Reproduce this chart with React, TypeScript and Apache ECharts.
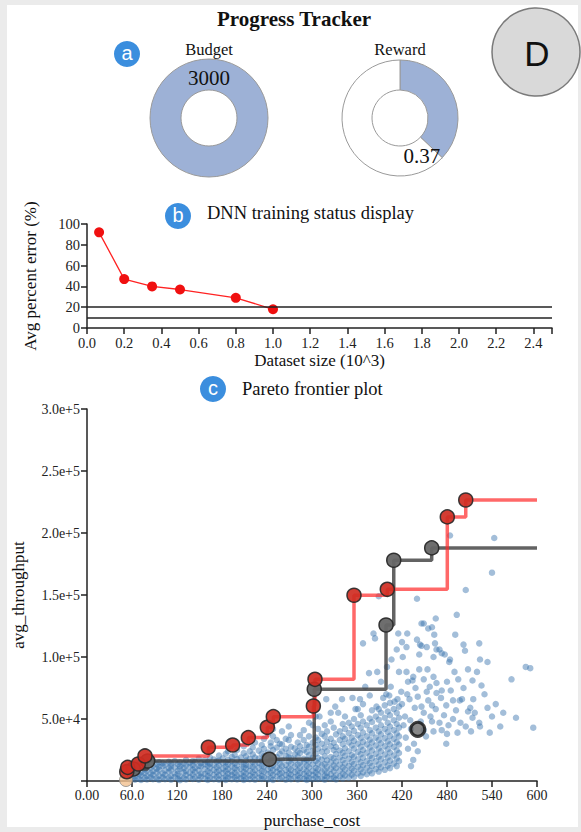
import React, { useEffect, useRef } from 'react';
import * as echarts from 'echarts';

const SERIF = "'Liberation Serif', 'Times New Roman', serif";
const SANS = "'Liberation Sans', Arial, sans-serif";
const RING_BLUE = '#9db1d6';
const BADGE_BLUE = '#3b8ede';

// (a) progress gauges
const budgetValue = 3000;
const rewardValue = 0.37;

// (b) DNN training status
const datasetSizes = [0.065, 0.2, 0.35, 0.5, 0.8, 1.0];
const percentErrors = [92, 47, 40, 37, 29, 18];
const errorThresholds = [20, 10];

// (c) Pareto frontiers: [purchase_cost, avg_throughput (thousands)]
const redFrontier: [number, number][] = [
  [53, 7.5], [54.2, 11], [68.4, 13.7], [77.3, 20.2], [161.8, 27.2], [194.2, 29],
  [215.1, 35], [240.4, 43.3], [248.4, 51.9], [301.8, 60.5], [304, 82], [356, 149.8],
  [400.4, 154.6], [480.4, 213], [505, 226.6],
];
const grayFrontier: [number, number][] = [
  [61.8, 9.7], [80.9, 16.1], [243.1, 17.5], [303, 74], [398.7, 125.8], [409, 178], [459.6, 188],
];
const frontierEndCost = 600;
const baselineConfig: [number, number] = [52, 0.8];
const selectedConfig: [number, number] = [441, 41.7];

// sampled configurations, dense part grouped by cost
const configColumns: [number, number[]][] = [
  [57, [1.5, 4, 7.5, 11]], [61, [2.5, 6, 9, 13]], [64, [1, 3.5, 8, 12, 15]],
  [69, [2, 5.5, 10, 14]], [72, [0.8, 4.5, 7, 11.5, 16]], [77, [2.5, 6.5, 9.5, 13]],
  [80, [1.2, 4, 8.5, 12, 15]], [85, [3, 6, 10.5, 14]], [88, [1.5, 5, 8, 12.5, 16.5]],
  [93, [2.2, 7, 10, 13.5]], [96, [0.9, 4.2, 9, 11.5, 15]], [101, [3, 6.2, 12, 14.5]],
  [104, [1.4, 5, 8.5, 13]], [109, [2.6, 7.5, 10.5, 15.5]], [112, [1, 4, 9, 12, 14]],
  [117, [3.2, 6, 11, 16]], [121, [1.8, 5.5, 8.2, 13.5]], [124, [0.7, 3.8, 9.8, 12, 15]],
  [129, [2.4, 7, 10.2, 14.2]], [132, [1.3, 4.8, 8, 12.8, 17]], [137, [3, 6.6, 11.4, 14.8]],
  [141, [1.6, 5.2, 9.2, 13, 16]], [144, [2.8, 7.4, 10.6, 15.4]], [149, [1, 4.4, 8.6, 12.2, 18]],
  [152, [3.4, 6, 11.8, 14.4]], [157, [1.9, 5.6, 9.6, 13.6, 16.8]], [161, [0.8, 4, 7.8, 12.4, 15.2]],
  [164, [2.6, 6.8, 10.8, 14, 19]], [169, [1.4, 5, 9, 13.2, 17.4]], [173, [3.2, 7.2, 11.2, 15.8]],
  [176, [1.1, 4.6, 8.4, 12.6, 16.4, 20.5]], [181, [2.2, 6.4, 10, 14.6, 18.2]],
  [185, [0.9, 3.6, 8, 11.6, 15, 22]], [188, [2.8, 5.8, 9.4, 13.4, 17, 24]],
  [193, [1.5, 4.8, 7.6, 12, 16, 19.5]], [197, [3, 6.6, 10.4, 14.2, 21]],
  [200, [1.2, 4.2, 8.8, 12.8, 17.6, 25]], [205, [2.4, 5.4, 9.8, 15.2, 19]],
  [209, [0.8, 3.8, 7.2, 11, 14, 22.5, 28]], [212, [2, 6, 10, 13, 16.5, 20]],
  [217, [1.4, 4.4, 8.2, 12.2, 17.8, 24]], [221, [3.2, 7, 11.4, 15.6, 21.5, 27]],
  [224, [1, 5, 9, 13.6, 19, 31]], [229, [2.6, 6.2, 10.6, 14.8, 18, 24.5]],
  [233, [1.6, 4, 8, 12.4, 16.4, 22, 29]], [236, [3, 7.6, 11.8, 20, 26, 34]],
  [241, [1.2, 5.4, 9.4, 13.8, 18.6, 23, 38]], [245, [2.2, 6.6, 10.8, 15, 21, 28, 31]],
  [248, [0.9, 4.6, 8.6, 12.6, 17, 25, 36, 42]], [253, [3.6, 7.4, 11, 16, 19.4, 27, 33]],
  [257, [1.8, 5.8, 9.6, 14.4, 22, 30]], [260, [2.8, 6.8, 12, 17.2, 24, 29.5, 40]],
  [265, [1, 4.8, 8.8, 13, 20.4, 26, 34]], [269, [2.4, 6, 10.2, 15.6, 19, 23, 33, 44]],
  [272, [1.5, 5.2, 9, 14, 18.4, 27.6, 37]], [277, [3.2, 7.2, 11.6, 16.6, 21.6, 26.4]],
  [281, [1.2, 4.4, 8.4, 13.2, 19.6, 24, 31]], [284, [2.6, 6.4, 10.6, 15, 22.6, 28, 37]],
  [289, [1.8, 5.6, 9.6, 14.6, 18, 25, 33, 41]], [293, [0.9, 3.8, 7.8, 12.4, 17, 23.4, 29]],
  [296, [2.4, 6.2, 11, 15.8, 20.8, 27.6, 36, 47]], [301, [1.4, 4.8, 8.2, 13.4, 19, 24.4, 31, 45]],
  [305, [3, 6.8, 10.6, 16.2, 22, 29, 35, 52]], [308, [1.6, 5.2, 9.4, 14, 18.6, 26, 33, 42]],
  [313, [2.2, 7.4, 12.4, 17.2, 23.6, 30, 38]], [317, [1, 4.2, 8.6, 13.6, 20, 27, 36, 45]],
  [320, [3.4, 6.4, 11.2, 16.6, 24, 31.6, 40]], [325, [1.8, 5.4, 9.8, 14.8, 19.4, 28, 34, 48]],
  [329, [2.8, 7.8, 12.6, 18.2, 25, 30.8, 43]], [332, [1.2, 4.6, 10.4, 15.6, 21.8, 27.4, 37.6]],
  [337, [3.6, 8.2, 13.2, 19, 24.6, 33, 40]], [341, [2, 6, 11, 16.8, 22.8, 29.6, 36, 46]],
  [344, [4.4, 9.2, 14.2, 20.4, 26.4, 34, 42, 52]], [349, [2.6, 7, 12.2, 18, 24, 31, 38.6, 47]],
  [353, [5, 10, 15.4, 21, 28.6, 35, 44]], [356, [3.2, 8.4, 13.6, 19.6, 26, 32.4, 40.4, 50]],
  [361, [6, 11.4, 17.4, 23.4, 30, 37, 46, 58]], [365, [4, 9.4, 15, 21.6, 27.6, 34.6, 43, 53]],
  [368, [7, 12.6, 18.8, 25, 31.6, 39, 48, 62]], [373, [5.4, 10.6, 16, 22.8, 29.4, 36, 45]],
  [377, [8.4, 14.4, 20.2, 27, 33.4, 41, 50.4]], [380, [6.2, 12, 18.4, 24.6, 31, 38.4, 47.6, 57]],
  [385, [9.6, 15.8, 22, 28.6, 35, 43, 52]], [389, [7.6, 13.2, 19.6, 26.2, 33, 40, 49.4, 58]],
  [392, [11, 17.6, 24, 30.4, 37.6, 45, 55]], [397, [9, 15, 21.4, 28, 34.6, 42, 51, 61]],
  [401, [12.4, 19, 25.6, 32, 39.4, 47, 56]], [404, [10.4, 16.4, 23, 29.6, 36.4, 44, 53, 63]],
  [409, [14, 20.6, 27.4, 34, 41, 49, 58]], [413, [12, 18.2, 24.8, 31.4, 38.4, 46, 55]],
  [416, [16, 22.6, 29.4, 36, 43, 51, 60]],
];

// sampled configurations, sparse part
const configPoints: [number, number][] = [
  [319, 66], [325, 55], [335, 55], [340, 66], [354, 67], [364, 66], [371, 76], [377, 69],
  [376, 87], [387, 88], [395, 67], [399, 70], [403, 69], [405, 76], [414, 66], [416, 88],
  [406, 98], [413, 106], [420, 112], [415, 119], [382, 119], [384, 115], [368, 111], [389, 149],
  [310, 52], [331, 60], [358, 58], [386, 60], [410, 64], [419, 72], [392, 80], [400, 92],
  [421, 100], [426, 88], [426, 108], [427, 119], [428, 80], [430, 66], [434, 81], [435, 84],
  [440, 147], [440, 114], [441, 68], [443, 90], [443, 102], [444, 110], [446, 127], [446, 109],
  [449, 127], [449, 82], [453, 108], [454, 90], [455, 123], [455, 65], [457, 76], [460, 124],
  [462, 100], [462, 84], [463, 118], [464, 111], [465, 131], [466, 106], [466, 79], [466, 71],
  [470, 106], [473, 103], [473, 73], [477, 102], [479, 61], [483, 96], [484, 198], [484, 98],
  [485, 73], [488, 65], [491, 118], [493, 134], [495, 82], [497, 65], [500, 66], [502, 110],
  [504, 105], [505, 154], [508, 90], [508, 56], [511, 59], [514, 81], [514, 51], [517, 55],
  [523, 111], [523, 47], [524, 98], [524, 44], [526, 77], [534, 96], [534, 59], [537, 39],
  [540, 168], [540, 52], [543, 196], [551, 44], [566, 82], [572, 51], [585, 92], [591, 91],
  [595, 43], [422, 45], [424, 52], [425, 35], [428, 26], [431, 49], [432, 42], [432, 12],
  [435, 17], [436, 30], [437, 59], [441, 24], [445, 48], [449, 41], [449, 55], [452, 36],
  [458, 52], [460, 48], [462, 40], [465, 58], [470, 47], [473, 41], [476, 53], [479, 30],
  [480, 38], [482, 45], [488, 50], [492, 57], [494, 39], [498, 47], [505, 44], [512, 40],
  [420, 62], [427, 70], [438, 75], [446, 60], [453, 72], [460, 61], [472, 67], [480, 80],
  [490, 88], [502, 75], [515, 66], [530, 70], [545, 62], [555, 55], [520, 88],
];

const K = 1000;
const toPt = (p: [number, number]) => [p[0], p[1] * K];

function axisBase(fontSize: number) {
  return {
    axisLine: { show: true, onZero: false, lineStyle: { color: '#222', width: 1.5 } },
    axisTick: { show: true, length: 6, lineStyle: { color: '#222', width: 1.5 } },
    axisLabel: { color: '#222', fontSize, fontFamily: SERIF, margin: 7 },
    splitLine: { show: false },
    nameTextStyle: { color: '#111', fontSize: 17, fontFamily: SERIF },
  };
}

function textEl(text: string, x: number, y: number, fontSize: number, opts: any = {}) {
  return {
    type: 'text',
    x,
    y,
    z: 10,
    style: {
      text,
      fill: opts.fill || '#111',
      fontSize,
      fontFamily: opts.fontFamily || SERIF,
      fontWeight: opts.fontWeight || 'normal',
      align: opts.align || 'center',
      verticalAlign: 'middle',
      textAlign: opts.align || 'center',
      textVerticalAlign: 'middle',
    },
  };
}

function badge(letter: string, cx: number, cy: number) {
  return [
    { type: 'circle', z: 10, shape: { cx, cy, r: 13 }, style: { fill: BADGE_BLUE } },
    textEl(letter, cx, cy - 1, 20, { fill: '#fff', fontFamily: SANS }),
  ];
}

export default function App() {
  const ref = useRef<HTMLDivElement>(null);

  useEffect(() => {
    if (!ref.current) return;
    const chart = echarts.init(ref.current, undefined, { renderer: 'svg' });

    const rewardCenter = [400, 118];
    const rewardOuter = 58;
    const endAngle = ((90 - rewardValue * 360) * Math.PI) / 180;
    const rewardLabelX = rewardCenter[0] + rewardOuter * Math.cos(endAngle) - 2;
    const rewardLabelY = rewardCenter[1] - rewardOuter * Math.sin(endAngle) - 2;

    const scatterData: number[][] = [];
    configColumns.forEach(([c, ys]) => ys.forEach((y) => scatterData.push([c, y * K])));
    configPoints.forEach((p) => scatterData.push(toPt(p)));

    const redLine = redFrontier.map(toPt).concat([[frontierEndCost, redFrontier[redFrontier.length - 1][1] * K]]);
    const grayLine = grayFrontier.map(toPt).concat([[frontierEndCost, grayFrontier[grayFrontier.length - 1][1] * K]]);

    const option: any = {
      animation: false,
      backgroundColor: '#ebebeb',
      textStyle: { fontFamily: SERIF },
      graphic: [
        { type: 'rect', z: -100, shape: { x: 7, y: 5, width: 571, height: 822 }, style: { fill: '#fff' } },
        textEl('Progress Tracker', 294, 19, 21, { fontWeight: 'bold' }),
        ...badge('a', 127, 54),
        textEl('Budget', 209, 49, 16.5),
        textEl('Reward', 400, 49, 16.5),
        textEl(String(rewardValue), rewardLabelX, rewardLabelY, 21, { align: 'right' }),
        { type: 'circle', z: 10, shape: { cx: 536, cy: 52, r: 44 }, style: { fill: '#d9d9d9', stroke: '#7a7a7a', lineWidth: 1.5 } },
        textEl('D', 537, 53, 35, { fontFamily: SANS }),
        ...badge('b', 178, 216),
        textEl('DNN training status display', 207, 213, 18.5, { align: 'left' }),
        ...badge('c', 213, 389),
        textEl('Pareto frontier plot', 242, 389, 18.5, { align: 'left' }),
      ],
      grid: [
        { left: 87, top: 224, width: 465, height: 104 },
        { left: 87, top: 409, width: 450, height: 372 },
      ],
      xAxis: [
        {
          ...axisBase(14.5),
          gridIndex: 0,
          type: 'value',
          min: 0,
          max: 2.5,
          interval: 0.2,
          name: 'Dataset size (10^3)',
          nameLocation: 'middle',
          nameGap: 24,
          axisLabel: {
            ...axisBase(14.5).axisLabel,
            formatter: (v: number) => (Math.abs(v - 2.5) < 1e-9 ? '' : v.toFixed(1)),
          },
        },
        {
          ...axisBase(14),
          gridIndex: 1,
          type: 'value',
          min: 0,
          max: 600,
          interval: 60,
          name: 'purchase_cost',
          nameLocation: 'middle',
          nameGap: 31,
          axisLabel: {
            ...axisBase(14).axisLabel,
            formatter: (v: number) => (v === 0 ? '0.00' : v < 100 ? v.toFixed(1) : String(v)),
          },
        },
      ],
      yAxis: [
        {
          ...axisBase(14.5),
          gridIndex: 0,
          type: 'value',
          min: 0,
          max: 100,
          interval: 20,
          name: 'Avg percent error (%)',
          nameLocation: 'middle',
          nameGap: 48,
        },
        {
          ...axisBase(14),
          gridIndex: 1,
          type: 'value',
          min: 0,
          max: 300000,
          interval: 50000,
          name: 'avg_throughput',
          nameLocation: 'middle',
          nameGap: 60,
          axisLabel: {
            ...axisBase(14).axisLabel,
            formatter: (v: number) => (v === 0 ? '' : v.toExponential(1)),
          },
        },
      ],
      series: [
        {
          type: 'pie',
          silent: true,
          center: [209, 118],
          radius: [28, 59],
          startAngle: 270,
          clockwise: true,
          itemStyle: { borderColor: '#9a9a9a', borderWidth: 1 },
          label: {
            show: true,
            position: 'inside',
            formatter: '{c}',
            fontSize: 21,
            color: '#111',
            fontFamily: SERIF,
            offset: [0, 6],
          },
          labelLine: { show: false },
          data: [{ value: budgetValue, name: 'Budget', itemStyle: { color: RING_BLUE } }],
        },
        {
          type: 'pie',
          silent: true,
          center: rewardCenter,
          radius: [28, rewardOuter],
          startAngle: 90,
          clockwise: true,
          itemStyle: { borderColor: '#9a9a9a', borderWidth: 1 },
          label: { show: false },
          labelLine: { show: false },
          data: [
            { value: rewardValue, name: 'Reward', itemStyle: { color: RING_BLUE } },
            { value: 1 - rewardValue, name: 'Remaining', itemStyle: { color: '#ffffff' } },
          ],
        },
        {
          type: 'line',
          xAxisIndex: 0,
          yAxisIndex: 0,
          data: datasetSizes.map((s, i) => [s, percentErrors[i]]),
          symbol: 'circle',
          symbolSize: 10,
          itemStyle: { color: '#f01010' },
          lineStyle: { color: '#f22', width: 1.3 },
          markLine: {
            silent: true,
            symbol: 'none',
            label: { show: false },
            lineStyle: { color: '#222', width: 1.5, type: 'solid' },
            data: errorThresholds.map((t) => ({ yAxis: t })),
          },
          z: 3,
        },
        {
          type: 'scatter',
          xAxisIndex: 1,
          yAxisIndex: 1,
          data: scatterData,
          symbolSize: 6.5,
          itemStyle: { color: 'rgba(56,115,172,0.58)' },
          silent: true,
          z: 2,
        },
        {
          type: 'line',
          xAxisIndex: 1,
          yAxisIndex: 1,
          step: 'end',
          data: grayLine,
          showSymbol: false,
          lineStyle: { color: 'rgba(60,60,60,0.8)', width: 3.5 },
          silent: true,
          z: 3,
        },
        {
          type: 'line',
          xAxisIndex: 1,
          yAxisIndex: 1,
          step: 'end',
          data: redLine,
          showSymbol: false,
          lineStyle: { color: 'rgba(255,40,40,0.7)', width: 3.5 },
          silent: true,
          z: 4,
        },
        {
          type: 'scatter',
          xAxisIndex: 1,
          yAxisIndex: 1,
          data: grayFrontier.map(toPt),
          symbolSize: 14,
          itemStyle: { color: '#666', borderColor: '#2a2a2a', borderWidth: 1.5, opacity: 0.95 },
          silent: true,
          z: 5,
        },
        {
          type: 'scatter',
          xAxisIndex: 1,
          yAxisIndex: 1,
          data: redFrontier.map(toPt),
          symbolSize: 14,
          itemStyle: { color: '#cf2c22', borderColor: '#2a2a2a', borderWidth: 1.5, opacity: 0.92 },
          silent: true,
          z: 6,
        },
        {
          type: 'scatter',
          xAxisIndex: 1,
          yAxisIndex: 1,
          data: [toPt(baselineConfig)],
          symbolSize: 13,
          itemStyle: { color: '#f3c08e', borderColor: '#8a8a8a', borderWidth: 1 },
          silent: true,
          z: 5,
        },
        {
          type: 'scatter',
          xAxisIndex: 1,
          yAxisIndex: 1,
          data: [toPt(selectedConfig)],
          symbolSize: 14,
          itemStyle: { color: '#6a6a6a', borderColor: '#111', borderWidth: 3 },
          silent: true,
          z: 7,
        },
      ],
    };

    chart.setOption(option);
    return () => chart.dispose();
  }, []);

  return (
    <div style={{ position: 'fixed', left: 0, top: 0, width: 581, height: 832 }}>
      <div ref={ref} style={{ width: 581, height: 832 }} />
    </div>
  );
}
